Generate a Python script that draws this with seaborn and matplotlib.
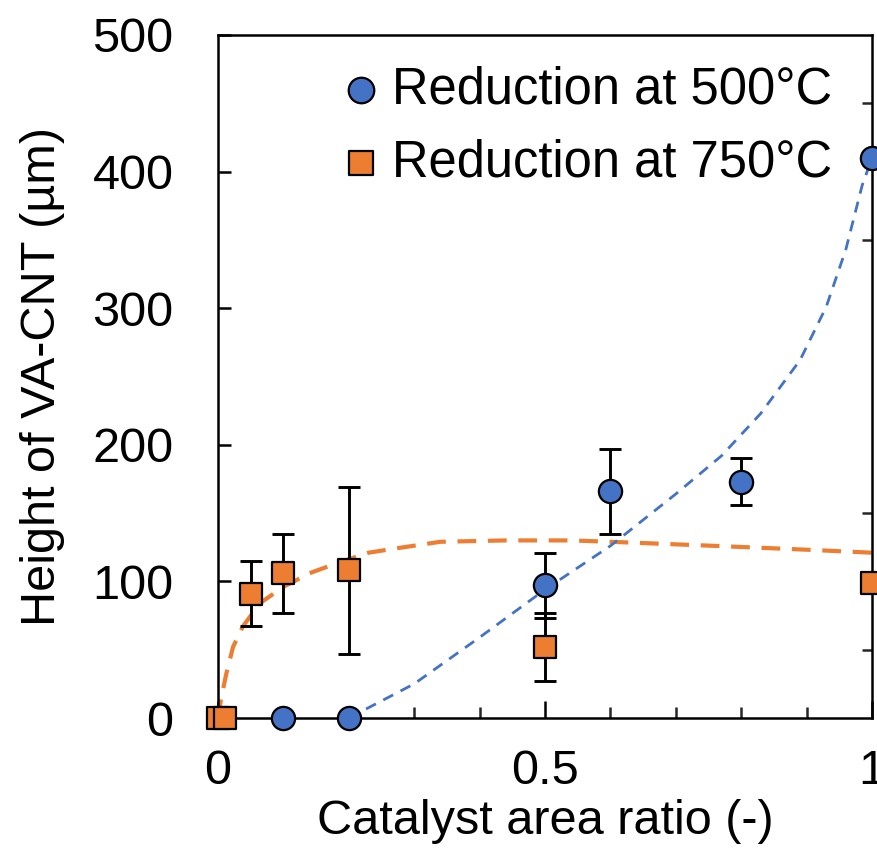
import numpy as np
import matplotlib
matplotlib.use("Agg")
import matplotlib.pyplot as plt
import seaborn as sns
from matplotlib.ticker import FixedLocator, MultipleLocator

# ── Données ───────────────────────────────────────────────────
# Réduction à 500 °C (points mesurés)
x_500 = [0.1, 0.2, 0.5, 0.6, 0.8, 1.0]
y_500 = [0, 0, 97, 166, 173, 410]
err_500 = [0, 0, 24, 31, 17, 0]

# Réduction à 750 °C (points mesurés)
x_750 = [0.0, 0.01, 0.05, 0.1, 0.2, 0.5, 1.0]
y_750 = [0, 0, 91, 106, 108, 52, 99]
err_750 = [0, 0, 24, 29, 61, 25, 0]

# Courbes d'ajustement (pointillés), relevées point par point
fit_x_500 = [0.2, 0.3, 0.4, 0.5, 0.6, 0.7, 0.77, 0.83, 0.89, 0.93, 0.96, 0.985, 1.0]
fit_y_500 = [0, 25, 59, 94, 126, 164, 192, 223, 262, 301, 343, 390, 410]

fit_x_750 = [0.0, 0.005, 0.013, 0.023, 0.038, 0.064, 0.1, 0.14, 0.18, 0.23,
             0.27, 0.34, 0.44, 0.54, 0.6, 0.76, 0.91, 1.0]
fit_y_750 = [0, 15, 33, 52, 67, 84, 96, 106, 113, 121,
             124, 129, 130, 130, 129, 126, 123, 121]

labels = ["Reduction at 500°C", "Reduction at 750°C"]
right_ticks = [50, 150, 350, 450]
BLUE = "#4472C4"
ORANGE = "#ED7D31"

sns.set_style("ticks")
plt.rcParams["font.family"] = ["Liberation Sans", "DejaVu Sans"]
plt.rcParams["text.color"] = "black"
plt.rcParams["axes.labelcolor"] = "black"
FS = 35

fig = plt.figure(figsize=(8.77, 8.58), dpi=100)
ax = fig.add_axes([218 / 877, 1 - 718 / 858, (872 - 218) / 877, (718 - 35) / 858])

# ── Courbes d'ajustement ─────────────────────────────────────
sns.lineplot(x=fit_x_750, y=fit_y_750, ax=ax, color=ORANGE, linewidth=3.0,
             linestyle=(0, (4.5, 2.8)), zorder=2, clip_on=False)
sns.lineplot(x=fit_x_500, y=fit_y_500, ax=ax, color=BLUE, linewidth=2.0,
             linestyle=(0, (4.0, 3.0)), zorder=2, clip_on=False)

# ── Barres d'erreur ─────────────────────────────────────────
for xs, ys, es in [(x_500, y_500, err_500), (x_750, y_750, err_750)]:
    xe = [a for a, e in zip(xs, es) if e > 0]
    ye = [b for b, e in zip(ys, es) if e > 0]
    ee = [e for e in es if e > 0]
    ax.errorbar(xe, ye, yerr=ee, fmt="none", ecolor="black", elinewidth=2.1,
                capsize=8, capthick=2.1, zorder=3)

# ── Points ──────────────────────────────────────────────────
sns.scatterplot(x=x_750, y=y_750, ax=ax, marker="s", s=250, color=ORANGE,
                edgecolor="black", linewidth=1.6, zorder=4, clip_on=False,
                label=labels[1])
sns.scatterplot(x=x_500, y=y_500, ax=ax, marker="o", s=280, color=BLUE,
                edgecolor="black", linewidth=1.6, zorder=5, clip_on=False,
                label=labels[0])

ax.set_xlim(0, 1)
ax.set_ylim(0, 500)

# Axes & graduations
ax.xaxis.set_major_locator(FixedLocator([0, 0.5, 1]))
ax.set_xticklabels(["0", "0.5", "1"])
ax.xaxis.set_minor_locator(MultipleLocator(0.1))
ax.yaxis.set_major_locator(MultipleLocator(100))
ax.yaxis.set_minor_locator(FixedLocator(right_ticks))

ax.tick_params(axis="x", which="major", direction="in", length=12, width=1.8,
               labelsize=FS, pad=22, colors="black")
ax.tick_params(axis="x", which="minor", direction="in", length=8, width=1.8)
ax.tick_params(axis="y", which="major", direction="in", length=9.5, width=1.8,
               labelsize=FS, pad=32, colors="black")
ax.tick_params(axis="y", which="minor", direction="in", length=7, width=1.8,
               left=False, right=True)

for sp in ax.spines.values():
    sp.set_linewidth(1.8)
    sp.set_color("black")

ax.set_xlabel("Catalyst area ratio (-)", fontsize=FS, labelpad=4)
ax.set_ylabel("Height of VA-CNT (µm)", fontsize=FS, labelpad=20)

# Légende
handles, lbls = ax.get_legend_handles_labels()
order = [lbls.index(labels[0]), lbls.index(labels[1])]
leg = ax.legend([handles[i] for i in order], [lbls[i] for i in order],
                loc="upper right", bbox_to_anchor=(857 / 877, 1 - 40 / 858),
                bbox_transform=fig.transFigure, frameon=False, fontsize=36.5,
                handletextpad=0.2, handlelength=0.8, borderpad=0,
                labelspacing=0.48, markerscale=1.1)

fig.savefig("out.png", dpi=100)
